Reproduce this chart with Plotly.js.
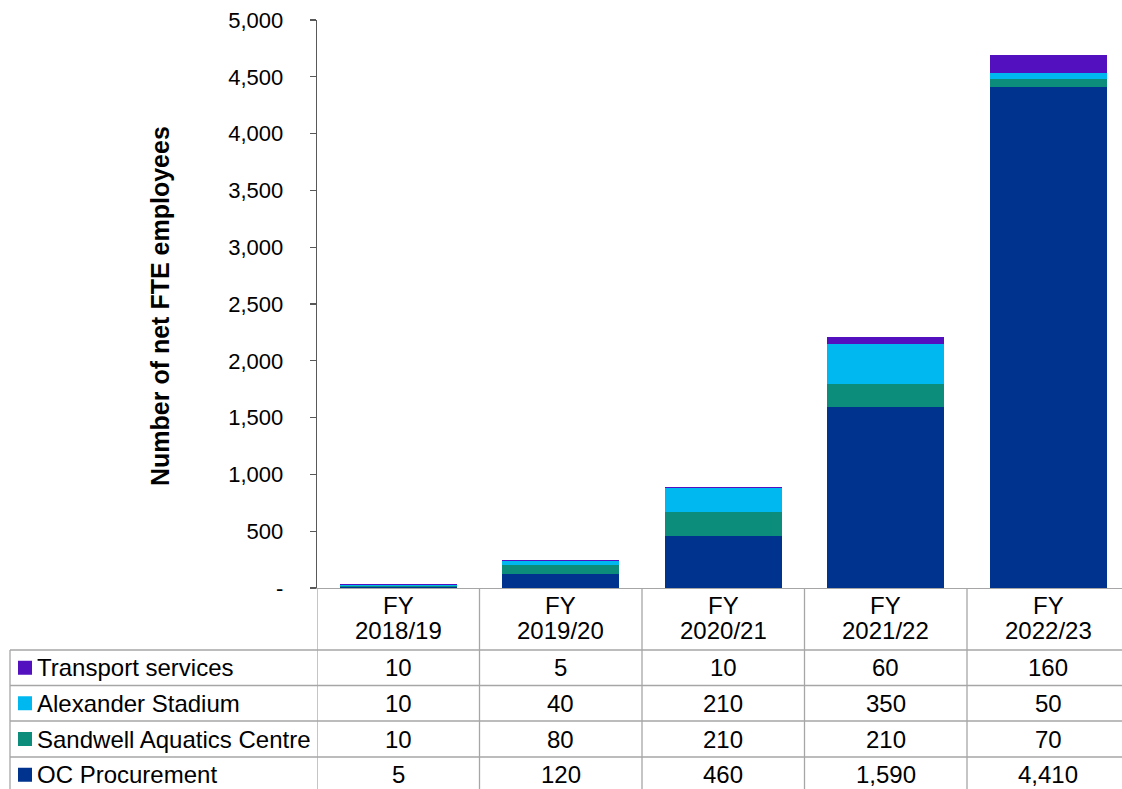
<!DOCTYPE html>
<html>
<head>
<meta charset="utf-8">
<script src="https://cdn.plot.ly/plotly-3.0.1.min.js"></script>
<style>
html,body{margin:0;padding:0;background:#fff;}
#chart{width:1122px;height:789px;}
</style>
</head>
<body>
<div id="chart"></div>
<script>
// ---- Data ----
const categories = ['FY 2018/19', 'FY 2019/20', 'FY 2020/21', 'FY 2021/22', 'FY 2022/23'];
const ocProcurement = [5, 120, 460, 1590, 4410];
const sandwellAquatics = [10, 80, 210, 210, 70];
const alexanderStadium = [10, 40, 210, 350, 50];
const transportServices = [10, 5, 10, 60, 160];
const yTickValues = [0, 500, 1000, 1500, 2000, 2500, 3000, 3500, 4000, 4500, 5000];
const yTickLabels = ['-', '500', '1,000', '1,500', '2,000', '2,500', '3,000', '3,500', '4,000', '4,500', '5,000'];
const yTitle = 'Number of net FTE employees';

// series listed top row first (as in the table)
const seriesNames = ['Transport services', 'Alexander Stadium', 'Sandwell Aquatics Centre', 'OC Procurement'];
const seriesValues = [transportServices, alexanderStadium, sandwellAquatics, ocProcurement];
const seriesColors = ['#5210BE', '#00B8F0', '#0C8C7B', '#00338D'];

// ---- Layout geometry (pixels) ----
const W = 1122, H = 789;
const L = 317, R = 0, T = 20, B = 201;
const plotW = W - L - R, plotH = H - T - B;
const colW = 162.5;
const px = p => (p - L) / plotW;
const py = p => (H - B - p) / plotH;

const font = "'Liberation Sans', Arial, sans-serif";
const gridColor = '#A6A6A6';
const axisColor = '#595959';

// Traces: stacked from bottom (OC first)
const traces = [];
for (let i = seriesNames.length - 1; i >= 0; i--) {
  traces.push({
    type: 'bar',
    name: seriesNames[i],
    x: categories,
    y: seriesValues[i],
    marker: {color: seriesColors[i], line: {width: 0}},
    hoverinfo: 'x+y+name'
  });
}

const shapes = [];
const annotations = [];

// Table geometry
const rowLines = [650, 685.5, 721, 757, 792.5];
const tableBottom = 792;
rowLines.forEach(y => {
  shapes.push({type: 'line', xref: 'paper', yref: 'paper',
    x0: px(10), x1: 1, y0: py(y), y1: py(y),
    line: {color: gridColor, width: 1.3}});
});
shapes.push({type: 'line', xref: 'paper', yref: 'paper',
  x0: px(10), x1: px(10), y0: py(650), y1: py(tableBottom),
  line: {color: gridColor, width: 1.3}});
for (let k = 0; k < categories.length; k++) {
  shapes.push({type: 'line', xref: 'x', yref: 'paper',
    x0: k - 0.5, x1: k - 0.5, y0: 0, y1: py(tableBottom),
    line: {color: gridColor, width: 1.3}});
}

// Header text (two lines, tightly spaced)
categories.forEach(c => {
  const parts = c.split(' ');
  annotations.push({xref: 'x', yref: 'paper', x: c, y: py(605), text: parts[0],
    showarrow: false, xanchor: 'center', yanchor: 'middle', height: 22, borderpad: 0,
    font: {family: font, size: 24, color: '#000'}});
  annotations.push({xref: 'x', yref: 'paper', x: c, y: py(630), text: parts[1],
    showarrow: false, xanchor: 'center', yanchor: 'middle', height: 22, borderpad: 0,
    font: {family: font, size: 24, color: '#000'}});
});

// Rows
seriesNames.forEach((name, r) => {
  const yc = (rowLines[r] + rowLines[r + 1]) / 2;
  shapes.push({type: 'rect', xref: 'paper', yref: 'paper',
    x0: px(18), x1: px(32), y0: py(yc - 7), y1: py(yc + 7),
    fillcolor: seriesColors[r], line: {width: 0}});
  annotations.push({xref: 'paper', yref: 'paper', x: px(35), y: py(yc), text: name,
    showarrow: false, xanchor: 'left', yanchor: 'middle',
    font: {family: font, size: 24, color: '#000'}});
  categories.forEach((c, k) => {
    annotations.push({xref: 'x', yref: 'paper', x: c, y: py(yc),
      text: seriesValues[r][k].toLocaleString('en-US'),
      showarrow: false, xanchor: 'center', yanchor: 'middle',
      font: {family: font, size: 24, color: '#000'}});
  });
});

// Y title
annotations.push({xref: 'paper', yref: 'paper', x: px(160), y: py(306), text: '<b>' + yTitle + '</b>',
  textangle: -90, showarrow: false, xanchor: 'center', yanchor: 'middle',
  font: {family: font, size: 25, color: '#000'}});

const layout = {
  width: W, height: H,
  margin: {l: L, r: R, t: T, b: B, pad: 0},
  paper_bgcolor: '#fff', plot_bgcolor: '#fff',
  barmode: 'stack',
  bargap: 0.28,
  showlegend: false,
  font: {family: font, size: 22, color: '#000'},
  xaxis: {
    type: 'category',
    range: [-0.5, -0.5 + plotW / colW],
    showticklabels: false, ticks: '',
    showline: true, linecolor: gridColor, linewidth: 1.3,
    showgrid: false, zeroline: false, fixedrange: true
  },
  yaxis: {
    range: [0, 5000],
    tickmode: 'array', tickvals: yTickValues, ticktext: yTickLabels,
    ticks: 'outside', ticklen: 6, tickcolor: axisColor, tickwidth: 1.3,
    ticklabelstandoff: 22,
    showline: true, linecolor: axisColor, linewidth: 1.3,
    showgrid: false, zeroline: false, fixedrange: true,
    tickfont: {family: font, size: 22, color: '#000'}
  },
  shapes: shapes,
  annotations: annotations
};

Plotly.newPlot('chart', traces, layout, {displayModeBar: false, staticPlot: true});
</script>
</body>
</html>
